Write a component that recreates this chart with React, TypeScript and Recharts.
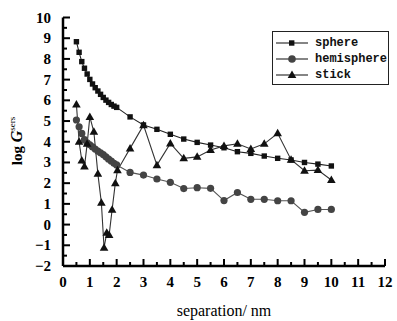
import React from "react";
import { LineChart, Line, XAxis, YAxis, Legend } from "recharts";

const sphereX = [0.5, 0.6, 0.7, 0.8, 0.9, 1.0, 1.1, 1.2, 1.3, 1.4, 1.5, 1.6, 1.7, 1.8, 1.9, 2.0, 2.5, 3.0, 3.5, 4.0, 4.5, 5.0, 5.5, 6.0, 6.5, 7.0, 7.5, 8.0, 8.5, 9.0, 9.5, 10.0];
const sphereY = [8.83, 8.32, 7.87, 7.55, 7.27, 7.01, 6.79, 6.61, 6.45, 6.29, 6.14, 6.01, 5.9, 5.8, 5.72, 5.66, 5.2, 4.81, 4.6, 4.36, 4.13, 3.97, 3.84, 3.71, 3.52, 3.44, 3.31, 3.2, 3.12, 3.0, 2.92, 2.83];

const hemiX = [0.5, 0.6, 0.7, 0.8, 0.9, 1.0, 1.1, 1.2, 1.3, 1.4, 1.5, 1.6, 1.7, 1.8, 1.9, 2.0, 2.5, 3.0, 3.5, 4.0, 4.5, 5.0, 5.5, 6.0, 6.5, 7.0, 7.5, 8.0, 8.5, 9.0, 9.5, 10.0];
const hemiY = [5.05, 4.72, 4.4, 4.1, 3.95, 3.85, 3.75, 3.65, 3.55, 3.47, 3.38, 3.27, 3.16, 3.06, 2.96, 2.88, 2.52, 2.39, 2.2, 2.04, 1.74, 1.78, 1.75, 1.16, 1.55, 1.22, 1.22, 1.15, 1.15, 0.59, 0.73, 0.73];

const stickX = [0.5, 0.6, 0.7, 0.8, 0.9, 1.0, 1.15, 1.3, 1.43, 1.53, 1.63, 1.72, 1.83, 1.95, 2.03, 2.5, 3.0, 3.5, 4.0, 4.5, 5.0, 5.5, 6.0, 6.5, 7.0, 7.5, 8.0, 8.5, 9.0, 9.5, 10.0];
const stickY = [5.8, 4.0, 3.1, 2.8, 3.9, 5.2, 4.48, 2.45, 1.05, -1.12, -0.4, -0.5, 0.72, 2.0, 2.62, 3.68, 4.8, 2.87, 3.92, 3.2, 3.27, 3.6, 3.8, 3.9, 3.65, 3.9, 4.41, 3.13, 2.6, 2.63, 2.15];

const xMajor = [0, 1, 2, 3, 4, 5, 6, 7, 8, 9, 10, 11, 12];
const xMinor = [0.5, 1.5, 2.5, 3.5, 4.5, 5.5, 6.5, 7.5, 8.5, 9.5, 10.5, 11.5];
const yMajor = [-2, -1, 0, 1, 2, 3, 4, 5, 6, 7, 8, 9, 10];
const yMinor = [-1.5, -0.5, 0.5, 1.5, 2.5, 3.5, 4.5, 5.5, 6.5, 7.5, 8.5, 9.5];

const toPoints = (xs: number[], ys: number[]) => xs.map((x, i) => ({ x, y: ys[i] }));
const sphere = toPoints(sphereX, sphereY);
const hemisphere = toPoints(hemiX, hemiY);
const stick = toPoints(stickX, stickY);

const SERIF = "'Liberation Serif', 'DejaVu Serif', serif";
const MONO = "'Liberation Mono', 'DejaVu Sans Mono', monospace";
const minus = (v: number) => (v < 0 ? `\u2212${Math.abs(v)}` : `${v}`);

// ticks point into the plot, long on whole numbers, short on halves
function XTick(props: any) {
  const { x, y, payload } = props;
  const major = Number.isInteger(payload.value);
  return (
    <g>
      <path d={`M${x},${y}V${y - (major ? 7 : 4)}`} stroke="#000" strokeWidth={2} fill="none" />
      {major && (
        <text x={x} y={y + 21} textAnchor="middle" fill="#000" fontFamily={SERIF} fontWeight={700} fontSize={15}>
          {payload.value}
        </text>
      )}
    </g>
  );
}

function YTick(props: any) {
  const { x, y, payload } = props;
  const major = Number.isInteger(payload.value);
  return (
    <g>
      <path d={`M${x},${y}H${x + (major ? 7 : 4)}`} stroke="#000" strokeWidth={2} fill="none" />
      {major && (
        <text x={x - 12} y={y + 5} textAnchor="end" fill="#000" fontFamily={SERIF} fontWeight={700} fontSize={15}>
          {minus(payload.value)}
        </text>
      )}
    </g>
  );
}

const Square = (p: any) => (
  <rect key={p.index} x={p.cx - 2.7} y={p.cy - 2.7} width={5.4} height={5.4} fill="#111" />
);
const Circle = (p: any) => <circle key={p.index} cx={p.cx} cy={p.cy} r={3.6} fill="#444" />;
const Triangle = (p: any) => (
  <path
    key={p.index}
    d={`M${p.cx},${p.cy - 4.5} L${p.cx + 4.3},${p.cy + 3} L${p.cx - 4.3},${p.cy + 3} Z`}
    fill="#111"
  />
);

const legendItems = [
  { name: "sphere", color: "#111", shape: "square" },
  { name: "hemisphere", color: "#444", shape: "circle" },
  { name: "stick", color: "#111", shape: "triangle" },
];

const renderLegend = () => (
  <div style={{ border: "1.5px solid #222", boxSizing: "border-box", width: 117, height: 54, padding: "3px 0 0 3px", background: "#fff" }}>
    {legendItems.map((it) => (
      <div key={it.name} style={{ display: "flex", alignItems: "center", height: 16 }}>
        <svg width={40} height={14} style={{ flex: "none" }}>
          <line x1={0} y1={7} x2={32} y2={7} stroke="#333" strokeWidth={1.2} />
          {it.shape === "square" && <rect x={13} y={4.3} width={5.4} height={5.4} fill={it.color} />}
          {it.shape === "circle" && <circle cx={16} cy={7} r={3.8} fill={it.color} />}
          {it.shape === "triangle" && <path d="M16,2.5 L20.3,10 L11.7,10 Z" fill={it.color} />}
        </svg>
        <span style={{ fontFamily: MONO, fontWeight: 700, fontSize: 12, color: "#111", marginLeft: -1 }}>{it.name}</span>
      </div>
    ))}
  </div>
);

const YLabel = () => (
  <text transform="translate(22,141) rotate(-90)" textAnchor="middle" fill="#000" fontFamily={SERIF} fontWeight={700} fontSize={15}>
    log <tspan fontStyle="italic" fontSize={16}>G</tspan>
    <tspan fontSize={9} fontWeight={400} dy={-7}>sers</tspan>
  </text>
);

export default function App() {
  return (
    <div style={{ position: "absolute", left: 0, top: 0, background: "#fff" }}>
      <LineChart width={397} height={321} margin={{ top: 17.5, right: 12, bottom: 25, left: 23 }}>
        <XAxis
          type="number"
          dataKey="x"
          domain={[0, 12]}
          ticks={[...xMajor, ...xMinor].sort((a, b) => a - b)}
          interval={0}
          allowDataOverflow
          tick={<XTick />}
          tickLine={false}
          tickSize={0}
          tickMargin={0}
          height={30}
          axisLine={{ stroke: "#000", strokeWidth: 2.5 }}
          label={{ value: "separation/ nm", position: "insideBottom", offset: -20, style: { fontFamily: SERIF, fontSize: 16, fill: "#000" } }}
        />
        <YAxis
          type="number"
          dataKey="y"
          domain={[-2, 10]}
          ticks={[...yMajor, ...yMinor].sort((a, b) => a - b)}
          interval={0}
          allowDataOverflow
          tick={<YTick />}
          tickLine={false}
          tickSize={0}
          tickMargin={0}
          width={40}
          axisLine={{ stroke: "#000", strokeWidth: 2.5 }}
          label={<YLabel />}
        />
        <Legend layout="vertical" align="center" verticalAlign="middle" content={renderLegend} wrapperStyle={{ left: 272, top: 31, width: 117, height: 54 }} />
        <Line data={sphere} dataKey="y" name="sphere" stroke="#222" strokeWidth={1.1} dot={Square} activeDot={false} isAnimationActive={false} />
        <Line data={hemisphere} dataKey="y" name="hemisphere" stroke="#555" strokeWidth={1.1} dot={Circle} activeDot={false} isAnimationActive={false} />
        <Line data={stick} dataKey="y" name="stick" stroke="#333" strokeWidth={1.1} dot={Triangle} activeDot={false} isAnimationActive={false} />
      </LineChart>
    </div>
  );
}
